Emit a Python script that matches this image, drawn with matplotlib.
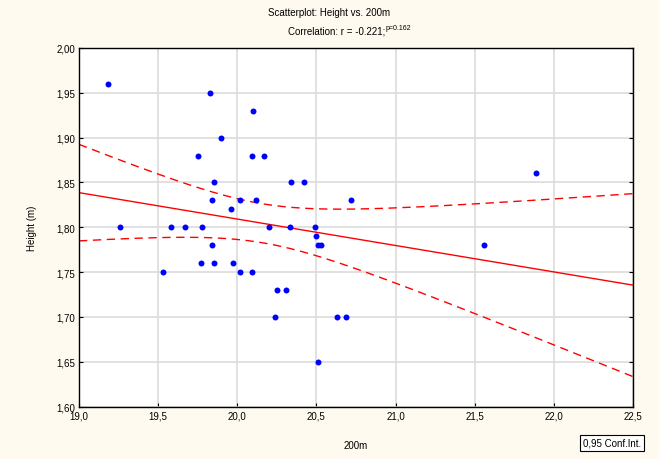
#Scatterplot of Height vs 200m time with regression line and 95% confidence band
import numpy as np
import matplotlib.pyplot as plt
from matplotlib.ticker import FuncFormatter

#Data
time_200m = [19.18, 19.26, 19.83, 20.10, 19.90, 19.75, 20.09, 20.17, 19.85, 20.34,
             20.42, 19.84, 20.02, 20.12, 20.72, 19.96, 19.58, 19.67, 19.78, 20.20,
             20.33, 20.49, 20.50, 20.51, 20.53, 19.84, 19.53, 19.77, 19.85, 19.97,
             20.02, 20.09, 20.25, 20.31, 20.24, 20.63, 20.69, 20.51, 21.89, 21.56]
height = [1.96, 1.80, 1.95, 1.93, 1.90, 1.88, 1.88, 1.88, 1.85, 1.85,
          1.85, 1.83, 1.83, 1.83, 1.83, 1.82, 1.80, 1.80, 1.80, 1.80,
          1.80, 1.80, 1.79, 1.78, 1.78, 1.78, 1.75, 1.76, 1.76, 1.76,
          1.75, 1.75, 1.73, 1.73, 1.70, 1.70, 1.70, 1.65, 1.86, 1.78]
x_ticks = [19.0, 19.5, 20.0, 20.5, 21.0, 21.5, 22.0, 22.5]
y_ticks = [1.60, 1.65, 1.70, 1.75, 1.80, 1.85, 1.90, 1.95, 2.00]
t_crit = 2.024  #t(0.975, 38 df)

x = np.array(time_200m)
y = np.array(height)
n = len(x)

#Linear fit and confidence band for the mean
slope, intercept = np.polyfit(x, y, 1)
xs = np.linspace(x_ticks[0], x_ticks[-1], 200)
ys = intercept + slope*xs
resid = y - (intercept + slope*x)
s = np.sqrt(np.sum(resid**2)/(n - 2))
sxx = np.sum((x - x.mean())**2)
half = t_crit*s*np.sqrt(1/n + (xs - x.mean())**2/sxx)

plt.rcParams['font.family'] = ['Liberation Sans', 'DejaVu Sans']
bg = '#fffaf0'
fig = plt.figure(figsize=(6.59, 4.6), dpi=100, facecolor=bg)
ax = fig.add_axes([0.1199, 0.1141, 0.8406, 0.7794])
ax.set_facecolor('white')

ax.grid(True, color='#dcdcdc', linewidth=1.2)
ax.set_axisbelow(True)
ax.plot(xs, ys, color='red', linewidth=1)
ax.plot(xs, ys + half, color='red', linewidth=1, linestyle=(0, (6, 4)))
ax.plot(xs, ys - half, color='red', linewidth=1, linestyle=(0, (6, 4)))
ax.plot(x, y, 'o', color='blue', markersize=4.3, markeredgewidth=0)

ax.set_xlim(x_ticks[0], x_ticks[-1])
ax.set_ylim(y_ticks[0], y_ticks[-1])
ax.set_xticks(x_ticks)
ax.set_yticks(y_ticks)
ax.xaxis.set_major_formatter(FuncFormatter(lambda v, p: f"{v:.1f}".replace('.', ',')))
ax.yaxis.set_major_formatter(FuncFormatter(lambda v, p: f"{v:.2f}".replace('.', ',')))
ax.tick_params(direction='in', length=3, labelsize=7, right=True, top=False, pad=3)
for sp in ax.spines.values():
    sp.set_linewidth(1)

ax.set_xlabel("200m", fontsize=7, labelpad=14)
ax.set_ylabel("Height (m)", fontsize=7, labelpad=14)

#Titles
fig.text(0.5, 1 - 13/460, "Scatterplot: Height vs. 200m", ha='center', va='center', fontsize=7)
fig.text(385/659, 1 - 32/460, "Correlation: r = -0.221;", ha='right', va='center', fontsize=7)
fig.text(386/659, 1 - 29/460, "p=0.162", ha='left', va='center', fontsize=5)

#Legend box
fig.text(612/659, 1 - 444/460, "0,95 Conf.Int.", ha='center', va='center', fontsize=7,
         bbox=dict(boxstyle='square,pad=0.35', facecolor='white', edgecolor='black', linewidth=0.8))

plt.savefig("out.png", dpi=100, facecolor=bg)
